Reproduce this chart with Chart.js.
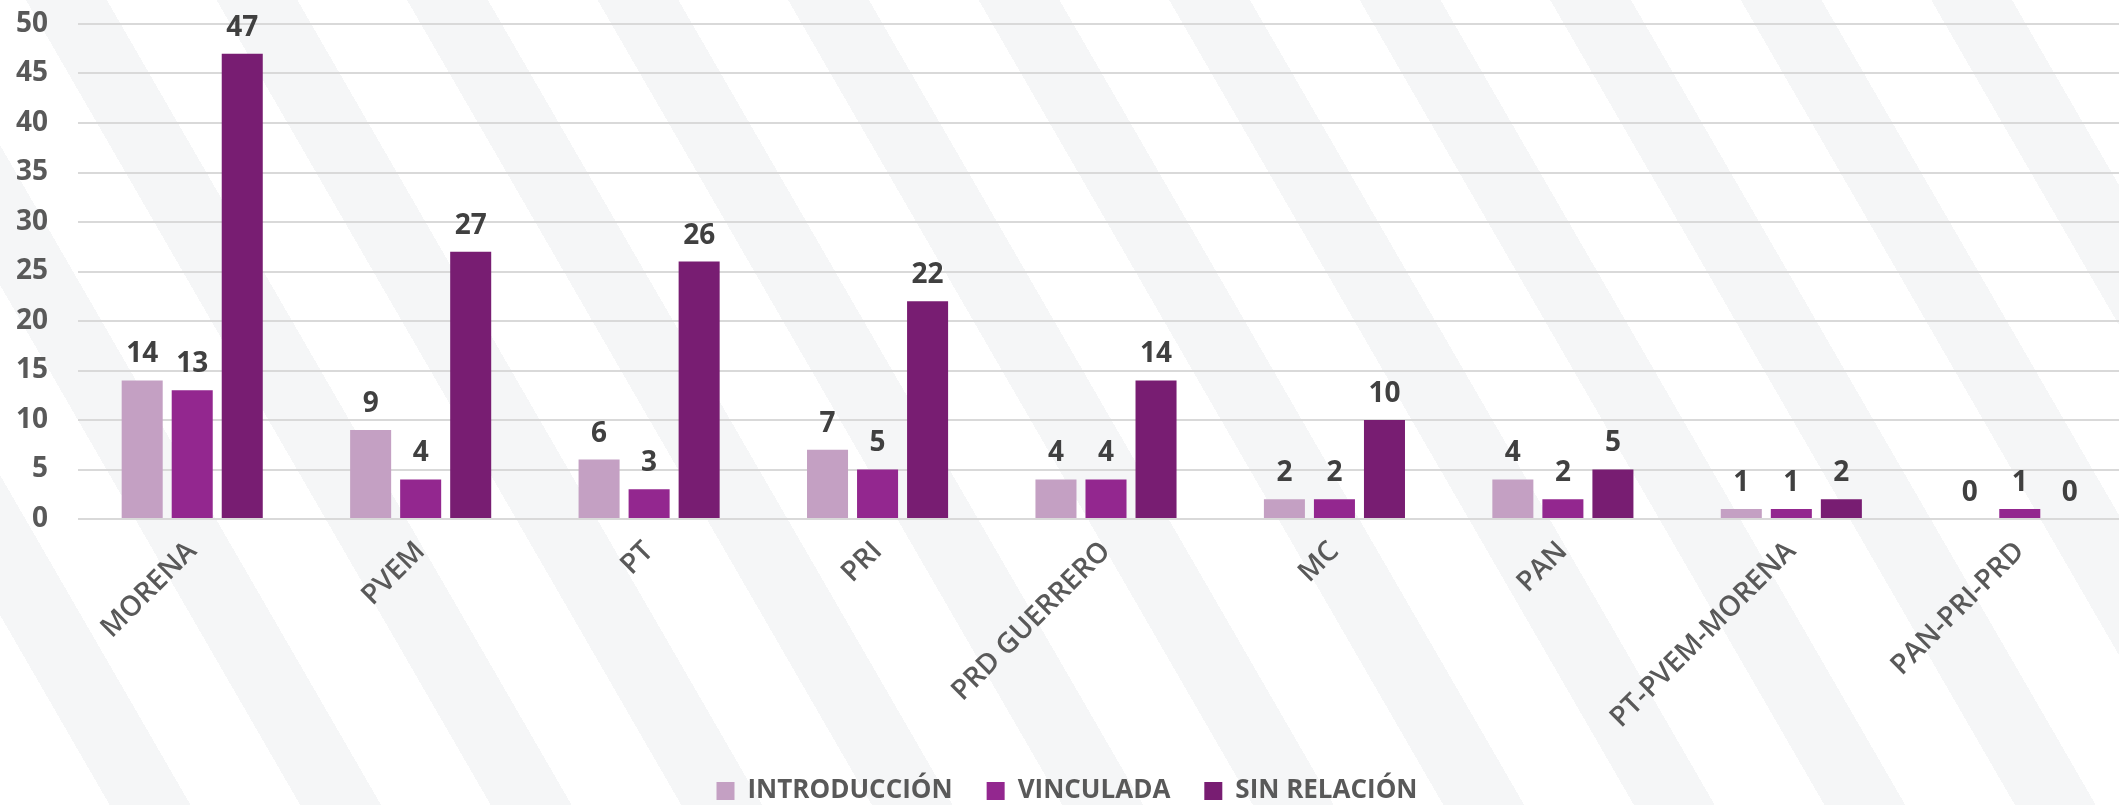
<!DOCTYPE html>
<html>
<head>
<meta charset="utf-8">
<script src="https://cdn.jsdelivr.net/npm/chart.js@4"></script>
<style>
  html, body { margin: 0; padding: 0; overflow: hidden; width: 2119px; height: 805px; }
  body {
    background: repeating-linear-gradient(60deg, #ffffff 0 95px, #f5f6f7 95px 165px);
  }
  #wrap { position: absolute; left: 0; top: 0; width: 2134px; height: 814px; }
  canvas { display: block; }
</style>
</head>
<body>
<div id="wrap"><canvas id="chart" width="2134" height="814"></canvas></div>
<script>
// categories and series
const partidos = ['MORENA', 'PVEM', 'PT', 'PRI', 'PRD GUERRERO', 'MC', 'PAN', 'PT-PVEM-MORENA', 'PAN-PRI-PRD']
const introduccion = [14, 9, 6, 7, 4, 2, 4, 1, 0]
const vinculada = [13, 4, 3, 5, 4, 2, 2, 1, 1]
const sinRelacion = [47, 27, 26, 22, 14, 10, 5, 2, 0]
const yTicks = [0, 5, 10, 15, 20, 25, 30, 35, 40, 45, 50]

const FONT = "'Open Sans', sans-serif"

// draws the value above each bar
const valueLabels = {
  id: 'valueLabels',
  afterDatasetsDraw(chart) {
    const ctx = chart.ctx
    ctx.save()
    ctx.font = `bold 28px ${FONT}`
    ctx.fillStyle = '#404040'
    ctx.textAlign = 'center'
    ctx.textBaseline = 'bottom'
    chart.data.datasets.forEach((ds, i) => {
      chart.getDatasetMeta(i).data.forEach((bar, j) => {
        ctx.fillText(String(ds.data[j]), bar.x, bar.y - 12)
      })
    })
    ctx.restore()
  }
}

const data = {
  labels: partidos,
  datasets: [
    { label: 'INTRODUCCIÓN', data: introduccion, backgroundColor: '#c4a0c3' },
    { label: 'VINCULADA', data: vinculada, backgroundColor: '#93278f' },
    { label: 'SIN RELACIÓN', data: sinRelacion, backgroundColor: '#781d72' }
  ]
}

const config = {
  type: 'bar',
  data: data,
  options: {
    responsive: false,
    animation: false,
    categoryPercentage: 0.657,
    barPercentage: 0.82,
    layout: { autoPadding: false, padding: { top: 24, left: 0, right: 0, bottom: 0 } },
    plugins: {
      legend: {
        position: 'bottom',
        labels: {
          boxWidth: 18,
          boxHeight: 18,
          padding: 34,
          color: '#595959',
          font: { family: FONT, size: 26, weight: 'bold' }
        }
      },
      tooltip: { enabled: false }
    },
    scales: {
      x: {
        grid: { display: false, drawTicks: false },
        border: { display: false },
        ticks: {
          minRotation: 45,
          maxRotation: 45,
          padding: 16,
          color: '#595959',
          font: { family: FONT, size: 28, weight: '600' }
        },
        afterFit(scale) { scale.height = 225 }
      },
      y: {
        min: 0,
        max: 50,
        afterBuildTicks(scale) { scale.ticks = yTicks.map(v => ({ value: v })) },
        grid: { color: '#d9d9d9', lineWidth: 2, drawTicks: false },
        border: { display: false },
        ticks: {
          padding: 30,
          color: '#595959',
          font: { family: FONT, size: 28, weight: 'bold' }
        },
        afterFit(scale) {
          scale.width = 78
          // the tick padding should not push the plot down from the top
          scale.paddingTop = 0
          scale.paddingBottom = 0
        }
      }
    }
  },
  plugins: [valueLabels]
}

new Chart(document.getElementById('chart'), config)
</script>
</body>
</html>
